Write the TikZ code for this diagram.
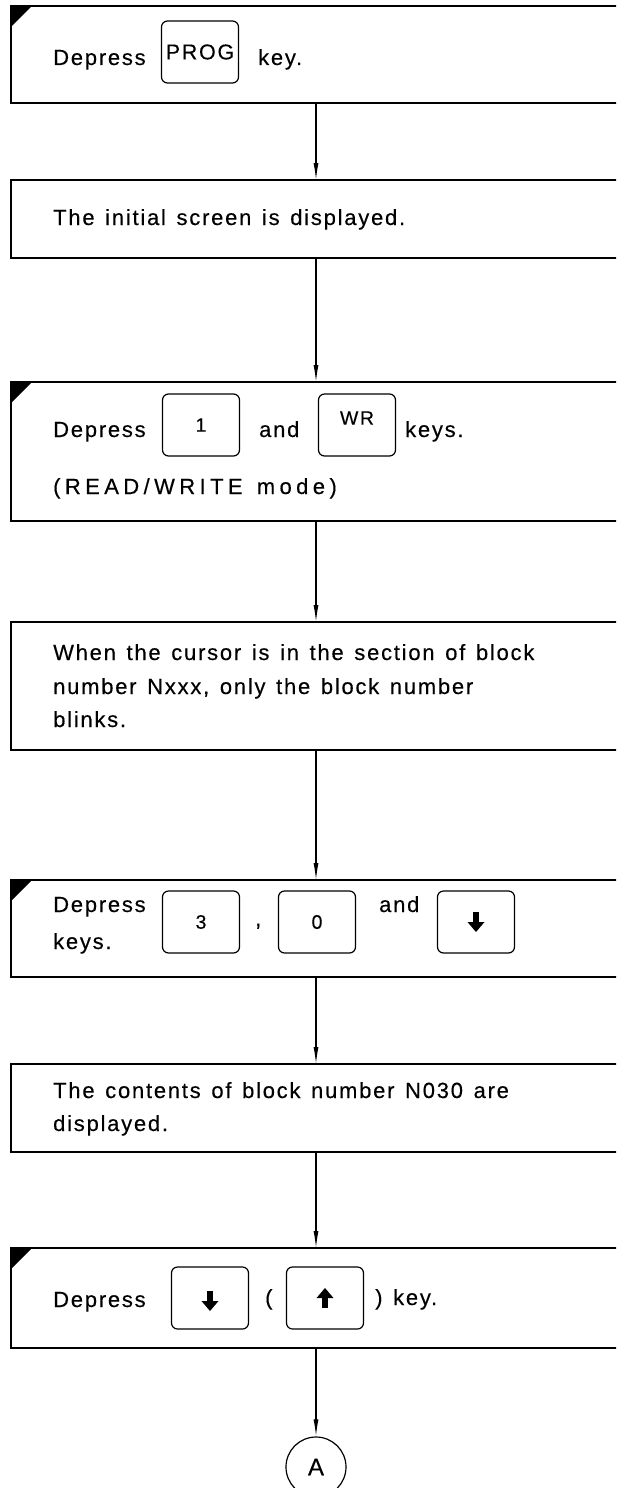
\documentclass[tikz,border=0pt]{standalone}
\usepackage{fontspec}
\setmainfont{Liberation Sans}[LetterSpace=8, WordSpace=1.35, FakeBold=0.3]
\usetikzlibrary{arrows.meta}

\tikzset{
  stepbox/.style={draw, line width=1.4pt, anchor=north west, minimum width=640pt,
    inner sep=0pt, outer sep=0pt},
  keycap/.style={draw, line width=1.2pt, rounded corners=6pt, minimum width=77pt,
    minimum height=62pt, inner sep=0pt, font=\fontsize{19.5}{22}\selectfont},
  keylabel/.style={inner sep=0pt, font=\fontsize{19.5}{22}\selectfont},
  txt/.style={anchor=base west, inner sep=0pt, font=\fontsize{22}{26}\selectfont},
  link/.style={line width=1.1pt, -{Latex[length=17pt,width=5pt]}},
  downglyph/.pic={
    \fill (-3.2,-10) rectangle (3.2,1);
    \fill (-8.5,0) -- (8.5,0) -- (0,10) -- cycle;
  },
  upglyph/.pic={
    \fill (-3.2,10) rectangle (3.2,-1);
    \fill (-8.5,0) -- (8.5,0) -- (0,-10) -- cycle;
  },
}

\begin{document}
\begin{tikzpicture}[x=1pt,y=-1pt]
\useasboundingbox (0,0) rectangle (616,1488);
\clip (0,0) rectangle (616,1488);
\fill[white] (0,0) rectangle (616,1488);

% vertical spine of the flow
\coordinate (spine) at (316,0);

% step boxes (they run off the right edge)
\node[stepbox, minimum height=97pt]  (b1) at (11,6) {};
\node[stepbox, minimum height=78pt]  (b2) at (11,180) {};
\node[stepbox, minimum height=139pt] (b3) at (11,382) {};
\node[stepbox, minimum height=128pt] (b4) at (11,622) {};
\node[stepbox, minimum height=97pt]  (b5) at (11,880) {};
\node[stepbox, minimum height=88pt]  (b6) at (11,1064) {};
\node[stepbox, minimum height=100pt] (b7) at (11,1248) {};

% operator-action marks
\foreach \b in {b1,b3,b5,b7}
  \fill (\b.north west) -- ++(21,0) -- ++(-21,21) -- cycle;

% step 1
\node[txt] (t1a) at (53,65) {Depress};
\node[keycap, font=\fontsize{21.5}{24}\selectfont] (kprog) at (200,52) {PROG};
\node[txt] (t1b) at (258,65) {key.};

% step 2
\node[txt] (t2) at (53,225) {The initial screen is displayed.};

% step 3
\node[txt] (t3a) at (53,437) {Depress};
\node[keycap] (k1) at (201,425) {};
\node[keylabel] (k1l) at (k1.center) {1};
\node[txt] (t3b) at (259,437) {and};
\node[keycap] (kwr) at (357,425) {};
\node[keylabel] (kwrl) at ([yshift=7pt]kwr.center) {WR};
\node[txt] (t3c) at (405,437) {keys.};
\node[txt, font=\fontsize{22}{26}\selectfont\addfontfeature{LetterSpace=20}]
  (t3d) at (53,494) {(READ/WRITE mode)};

% step 4
\node[txt] (t4a) at (53,660) {When the cursor is in the section of block};
\node[txt] (t4b) at (53,694) {number Nxxx, only the block number};
\node[txt] (t4c) at (53,727) {blinks.};

% step 5
\node[txt] (t5a) at (53,912) {Depress};
\node[txt] (t5b) at (53,949) {keys.};
\node[keycap] (k3) at (201,922) {3};
\node[txt] (t5c) at (255,926) {,};
\node[keycap] (k0) at (317,922) {0};
\node[txt] (t5d) at (379,912) {and};
\node[keycap] (kdn1) at (476,922) {};
\pic at (kdn1.center) {downglyph};

% step 6
\node[txt] (t6a) at (53,1098) {The contents of block number N030 are};
\node[txt] (t6b) at (53,1131) {displayed.};

% step 7
\node[txt] (t7a) at (53,1307) {Depress};
\node[keycap] (kdn2) at (210,1298) {};
\pic at ([yshift=-3pt]kdn2.center) {downglyph};
\node[txt] (t7b) at (265,1305) {(};
\node[keycap] (kup) at (325,1298) {};
\pic at (kup.center) {upglyph};
\node[txt] (t7c) at (375,1305) {) key.};

% off-page connector
\node[draw, circle, line width=1.2pt, minimum size=60pt, inner sep=0pt,
  font=\fontsize{24}{28}\selectfont] (nA) at (316,1467) {A};

% connectors
\draw[link] (b1.south -| spine) -- (b2.north -| spine);
\draw[link] (b2.south -| spine) -- (b3.north -| spine);
\draw[link] (b3.south -| spine) -- (b4.north -| spine);
\draw[link] (b4.south -| spine) -- (b5.north -| spine);
\draw[link] (b5.south -| spine) -- (b6.north -| spine);
\draw[link] (b6.south -| spine) -- (b7.north -| spine);
\draw[link] (b7.south -| spine) -- (nA.north);
\end{tikzpicture}
\end{document}
